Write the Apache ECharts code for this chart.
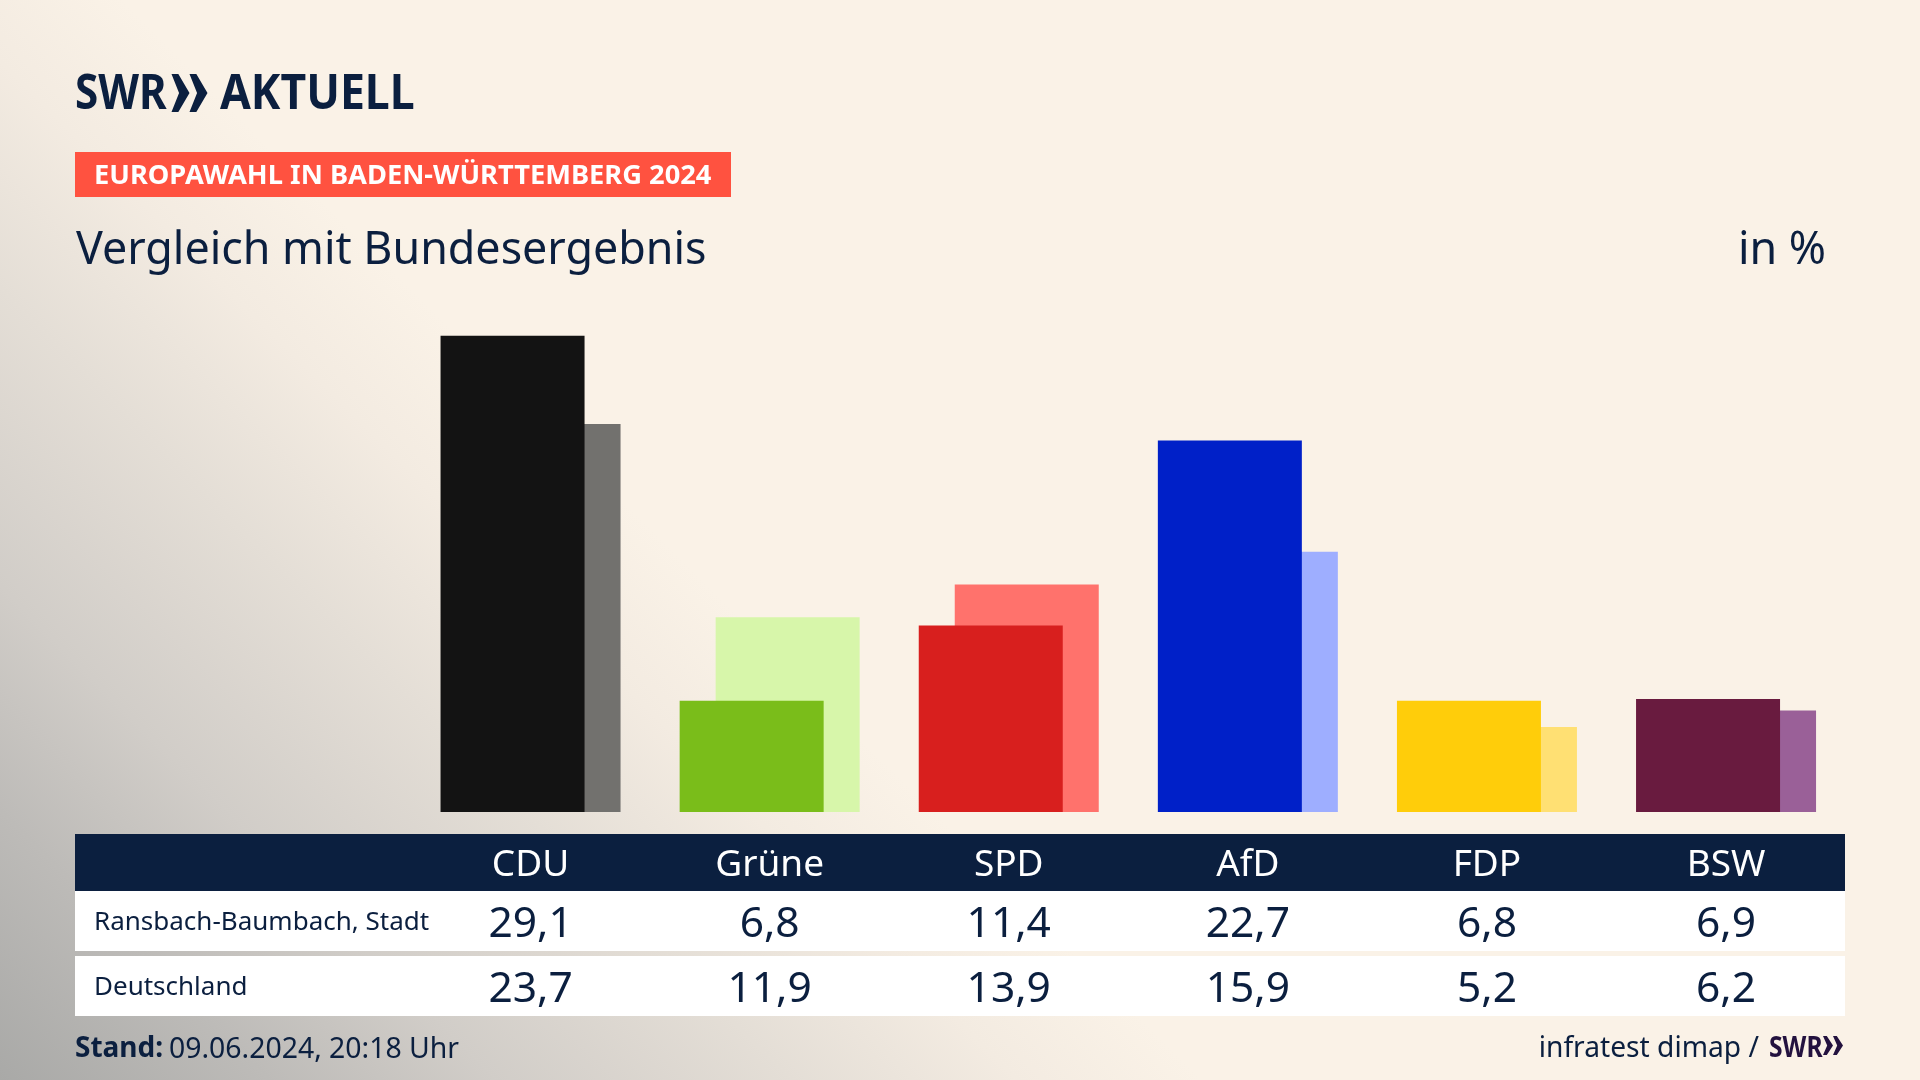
<!DOCTYPE html>
<html><head><meta charset="utf-8">
<script src="https://cdn.jsdelivr.net/npm/echarts@6/dist/echarts.min.js"></script>
<style>
html,body{margin:0;padding:0;width:1920px;height:1080px;overflow:hidden;
background:linear-gradient(45deg,#a9a9a7 0px,#bdbbb8 190px,#d1cdc8 350px,#e4ded6 560px,#f3ebe1 720px,#faf2e7 850px);}
#c{width:1920px;height:1080px}
</style></head><body><div id="c"></div>
<script>
const categories = ['CDU','Grüne','SPD','AfD','FDP','BSW'];
const localValues = [29.1,6.8,11.4,22.7,6.8,6.9];
const nationalValues = [23.7,11.9,13.9,15.9,5.2,6.2];
const localColors = ['#131313','#7abd1a','#d81f1e','#0020c8','#ffcd0a','#691b3f'];
const nationalColors = ['#72716e','#d7f6aa','#ff726c','#9eaeff','#ffe073','#9a6098'];
const rowLabels = ['Ransbach-Baumbach, Stadt','Deutschland'];
const NAVY='#0b1f3f', FONT='"Noto Sans"';
const fmt = v => v.toFixed(1).replace('.',',');

function chevrons(x,y,w,h,color){
  const one=w/2, t=one*0.38, notch=one*0.42, out=[];
  [0,one].forEach(d=>out.push({type:'polygon',z:5,shape:{points:[
    [x+d,y],[x+d+t,y],[x+d+one,y+h/2],[x+d+t,y+h],[x+d,y+h],[x+d+notch,y+h/2]
  ]},style:{fill:color}}));
  return out;
}
function txt(text,x,y,size,opt={}){
  return {type:'text',z:5,x,y,scaleX:opt.sx||1,style:{text,x:0,y:0,fill:opt.fill||NAVY,
    font:`${opt.weight||'normal'} ${size}px ${FONT}`,align:opt.align||'left',verticalAlign:'middle'}};
}
function rect(x,y,w,h,fill){return {type:'rect',z:-10,shape:{x,y,width:w,height:h},style:{fill}};}
function rowAxis(vals,offset,size){
  return {type:'category',data:categories,position:'bottom',offset,
    axisLine:{show:false},axisTick:{show:false},
    axisLabel:{interval:0,margin:0,color:NAVY,fontFamily:FONT,fontSize:size,verticalAlign:'middle',hideOverlap:false,
      formatter:(_,i)=>fmt(vals[i])}};
}
const chart=echarts.init(document.getElementById('c'),null,{renderer:'canvas',width:1920,height:1080});
chart.setOption({
  animation:false,
  backgroundColor:'transparent',
  grid:{left:411,width:1434.6,top:321,height:491},
  xAxis:[
    {type:'category',data:categories,position:'bottom',offset:53,axisLine:{show:false},axisTick:{show:false},
     axisLabel:{interval:0,margin:0,color:'#ffffff',fontFamily:FONT,fontSize:37,verticalAlign:'middle'}},
    rowAxis(localValues,112.5,42.5),
    rowAxis(nationalValues,177.5,42.5)
  ],
  yAxis:{type:'value',min:0,max:30,show:false},
  series:[
    {name:'Ransbach-Baumbach, Stadt',type:'bar',z:3,barWidth:144,barGap:'-75%',
     data:localValues.map((v,i)=>({value:v,itemStyle:{color:localColors[i]}}))},
    {name:'Deutschland',type:'bar',z:2,barWidth:144,
     data:nationalValues.map((v,i)=>({value:v,itemStyle:{color:nationalColors[i]}}))}
  ],
  graphic:{elements:[
    rect(75,834,1770,57,NAVY),
    rect(75,891,1770,60,'#ffffff'),
    rect(75,956,1770,60,'#ffffff'),
    {type:'rect',z:4,shape:{x:75,y:152,width:656,height:45},style:{fill:'#ff5240'}},
    txt('SWR',75,95.5,49,{weight:'bold',sx:0.86}),
    ...chevrons(171.5,74,36,38,NAVY),
    txt('AKTUELL',220,95.5,49,{weight:'bold',sx:0.91}),
    txt('EUROPAWAHL IN BADEN-WÜRTTEMBERG 2024',94,176.5,27,{weight:'bold',fill:'#ffffff',sx:1.01}),
    txt('Vergleich mit Bundesergebnis',76,251.5,44.8),
    txt('in %',1826,251.5,44.8,{align:'right'}),
    txt(rowLabels[0],94,922.5,26),
    txt(rowLabels[1],94,987.5,26),
    txt('Stand:',75,1049.5,28,{weight:'bold'}),
    txt('09.06.2024, 20:18 Uhr',169,1049.5,28.4),
    txt('infratest dimap /',1759,1048.5,28.2,{align:'right'}),
    txt('SWR',1769,1049,28,{weight:'bold',fill:'#23123f',sx:0.88}),
    ...chevrons(1823,1036,20,19,'#23123f')
  ]}
});
</script></body></html>
